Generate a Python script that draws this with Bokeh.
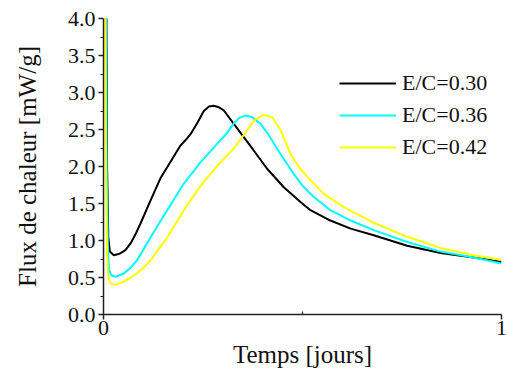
from bokeh.plotting import figure
from bokeh.models import Range1d, FixedTicker, Legend, LegendItem
from bokeh.embed import file_html
from bokeh.resources import INLINE

# ---- data ----
black_x = [0.007, 0.009, 0.012, 0.016, 0.026, 0.040, 0.055, 0.068, 0.080, 0.093, 0.118, 0.143, 0.168, 0.193,
           0.210, 0.219, 0.235, 0.252, 0.265, 0.277, 0.290, 0.302, 0.327, 0.352, 0.377, 0.411, 0.453, 0.495,
           0.520, 0.570, 0.621, 0.679, 0.763, 0.847, 0.930, 1.0]
black_y = [4.5, 2.0, 1.05, 0.85, 0.80, 0.82, 0.87, 0.96, 1.08, 1.23, 1.54, 1.84, 2.06, 2.28,
           2.38, 2.44, 2.58, 2.75, 2.81, 2.82, 2.80, 2.76, 2.58, 2.40, 2.22, 1.97, 1.72, 1.52,
           1.41, 1.27, 1.16, 1.07, 0.93, 0.83, 0.77, 0.71]

cyan_x = [0.006, 0.008, 0.011, 0.014, 0.020, 0.030, 0.050, 0.068, 0.085, 0.118, 0.160, 0.202, 0.244, 0.286,
          0.310, 0.327, 0.342, 0.357, 0.372, 0.394, 0.415, 0.436, 0.458, 0.478, 0.500, 0.528, 0.570, 0.621,
          0.679, 0.763, 0.847, 0.930, 1.0]
cyan_y = [4.5, 2.0, 0.9, 0.6, 0.53, 0.51, 0.55, 0.63, 0.74, 1.04, 1.41, 1.77, 2.06, 2.31,
          2.45, 2.58, 2.66, 2.69, 2.67, 2.58, 2.43, 2.24, 2.06, 1.90, 1.74, 1.59, 1.41, 1.27,
          1.14, 0.98, 0.85, 0.77, 0.69]

yellow_x = [0.004, 0.006, 0.009, 0.012, 0.018, 0.030, 0.050, 0.080, 0.100, 0.118, 0.160, 0.202, 0.244, 0.286,
            0.327, 0.361, 0.380, 0.403, 0.425, 0.445, 0.470, 0.490, 0.512, 0.553, 0.604, 0.654, 0.679, 0.763,
            0.847, 0.930, 1.0]
yellow_y = [4.5, 2.0, 0.8, 0.5, 0.42, 0.40, 0.44, 0.54, 0.63, 0.73, 1.04, 1.41, 1.74, 2.01,
            2.24, 2.49, 2.63, 2.70, 2.66, 2.49, 2.17, 2.00, 1.86, 1.63, 1.45, 1.31, 1.24, 1.05,
            0.90, 0.80, 0.74]

series_labels = ["E/C=0.30", "E/C=0.36", "E/C=0.42"]
y_ticks = [0.0, 0.5, 1.0, 1.5, 2.0, 2.5, 3.0, 3.5, 4.0]
y_minor = [0.25, 0.75, 1.25, 1.75, 2.25, 2.75, 3.25, 3.75]
x_ticks = [0, 1]
x_minor = [0.5]

FONT = "Liberation Serif"

p = figure(width=508, height=376, output_backend="svg", toolbar_location=None,
           x_range=Range1d(0, 1), y_range=Range1d(0, 4),
           min_border_left=103, min_border_right=7, min_border_top=18, min_border_bottom=62)
p.outline_line_color = None
p.grid.visible = False
p.background_fill_color = "white"
p.border_fill_color = "white"

r1 = p.line(black_x, black_y, line_color="#000000", line_width=2)
r2 = p.line(cyan_x, cyan_y, line_color="#00FFFF", line_width=2)
r3 = p.line(yellow_x, yellow_y, line_color="#FFFF00", line_width=2)

# axes
p.yaxis.ticker = FixedTicker(ticks=y_ticks, minor_ticks=y_minor)
p.yaxis.major_label_overrides = {t: f"{t:.1f}" for t in y_ticks}
p.xaxis.ticker = FixedTicker(ticks=x_ticks, minor_ticks=x_minor)
p.xaxis.major_label_overrides = {0: "0", 1: "1"}

for ax in (p.xaxis[0], p.yaxis[0]):
    ax.axis_line_color = "#222222"
    ax.axis_line_width = 1.5
    ax.major_tick_line_color = "#222222"
    ax.major_tick_line_width = 1.5
    ax.minor_tick_line_color = "#222222"
    ax.minor_tick_line_width = 1.2
    ax.major_tick_in = 0
    ax.major_tick_out = 5
    ax.major_label_text_font = FONT
    ax.major_label_text_font_size = "22px"
    ax.major_label_text_color = "#111111"
    ax.axis_label_text_font = FONT
    ax.axis_label_text_font_size = "25px"
    ax.axis_label_text_font_style = "normal"
    ax.axis_label_text_color = "#111111"

p.yaxis.minor_tick_in = 0
p.yaxis.minor_tick_out = 3
p.yaxis.major_label_standoff = 3
p.yaxis.axis_label = "Flux de chaleur [mW/g]"
p.yaxis.axis_label_standoff = 24

p.xaxis.minor_tick_in = 3
p.xaxis.minor_tick_out = 0
p.xaxis.major_label_standoff = 1
p.xaxis.axis_label = "Temps [jours]"
p.xaxis.axis_label_standoff = 3

legend = Legend(items=[LegendItem(label=series_labels[0], renderers=[r1]),
                       LegendItem(label=series_labels[1], renderers=[r2]),
                       LegendItem(label=series_labels[2], renderers=[r3])],
                location=(236, 154), padding=0, margin=0, spacing=6,
                glyph_width=57, glyph_height=24, label_height=24, label_standoff=6,
                label_text_font=FONT, label_text_font_size="22px", label_text_color="#111111",
                border_line_color=None, background_fill_alpha=0)
p.add_layout(legend, "center")

open("out.html", "w").write(file_html(p, INLINE))
